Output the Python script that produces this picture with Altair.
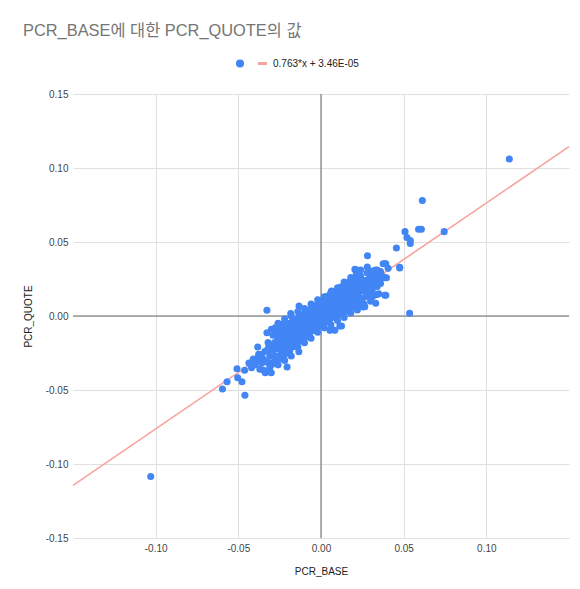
import altair as alt
import pandas as pd

TITLE = "PCR_BASE에 대한 PCR_QUOTE의 값"
TREND_LABEL = "0.763*x + 3.46E-05"
TREND_SLOPE = 0.763
TREND_INTERCEPT = 3.46e-05
TREND_X = [-0.15, 0.15]
TICKS = [-0.15, -0.10, -0.05, 0.00, 0.05, 0.10, 0.15]
X_TICKS = [-0.10, -0.05, 0.00, 0.05, 0.10]

# outliers and edge points
EDGE_BASE = [
    0.1139, -0.1030, 0.0613, 0.0590, 0.0607, 0.0745, 0.0508, 0.0520,
    0.0540, 0.0540, 0.0456, 0.0476, 0.0281, 0.0536, 0.0388, 0.0406,
    0.0211, 0.0386, 0.0386, 0.0331, 0.0321, 0.0265, 0.0295, 0.0325,
    0.0365, 0.0245, -0.0327, -0.0133, -0.0183, -0.0596, -0.0568, -0.0508,
    -0.0504, -0.0478, -0.0460, -0.0462, -0.0436, -0.0383, -0.0347, -0.0337,
    -0.0301, -0.0205, -0.0134, -0.0327, -0.0377, -0.0347, -0.0317, -0.0237,
    -0.0277, 0.0211, 0.0235, 0.0392, 0.0396, 0.0315, 0.0340, 0.0392,
    0.0219, 0.0114, 0.0064, 0.0054, 0.0124, 0.0084, 0.0185, 0.0205,
    0.0376, 0.0476, 0.0255,
]
EDGE_QUOTE = [
    0.1061, -0.1085, 0.0780, 0.0586, 0.0586, 0.0570, 0.0570, 0.0530,
    0.0510, 0.0490, 0.0460, 0.0325, 0.0407, 0.0018, 0.0353, 0.0322,
    0.0313, 0.0259, 0.0140, 0.0086, 0.0140, 0.0063, 0.0304, 0.0304,
    0.0259, 0.0214, 0.0039, 0.0068, 0.0016, -0.0493, -0.0444, -0.0356,
    -0.0417, -0.0444, -0.0536, -0.0367, -0.0318, -0.0209, -0.0367, -0.0383,
    -0.0383, -0.0345, -0.0241, -0.0113, -0.0259, -0.0304, -0.0315, -0.0056,
    -0.0079, 0.0309, 0.0277, 0.0353, 0.0259, 0.0304, 0.0146, 0.0140,
    0.0056, -0.0068, 0.0169, -0.0097, -0.0068, -0.0097, 0.0236, 0.0315,
    0.0353, 0.0329, 0.0061,
]

TAIL_BASE = [-0.036, -0.038, -0.040, -0.037, -0.042, -0.039, -0.036, -0.041]
TAIL_QUOTE = [-0.032, -0.028, -0.033, -0.036, -0.035, -0.030, -0.026, -0.029]

CORE_BASE = [
    -0.035, -0.034, -0.033, -0.032, -0.031, -0.030, -0.030, -0.029,
    -0.028, -0.028, -0.027, -0.026, -0.026, -0.025, -0.024, -0.024,
    -0.023, -0.022, -0.022, -0.021, -0.021, -0.020, -0.020, -0.019,
    -0.019, -0.018, -0.018, -0.017, -0.017, -0.016, -0.016, -0.015,
    -0.015, -0.014, -0.014, -0.013, -0.013, -0.012, -0.012, -0.011,
    -0.011, -0.010, -0.010, -0.009, -0.009, -0.008, -0.008, -0.007,
    -0.007, -0.006, -0.006, -0.005, -0.005, -0.004, -0.004, -0.003,
    -0.003, -0.002, -0.002, -0.001, -0.001, 0.000, 0.000, 0.000,
    0.001, 0.001, 0.002, 0.002, 0.003, 0.003, 0.004, 0.004,
    0.005, 0.005, 0.006, 0.006, 0.007, 0.007, 0.008, 0.008,
    0.009, 0.009, 0.010, 0.010, 0.011, 0.011, 0.012, 0.012,
    0.013, 0.013, 0.014, 0.014, 0.015, 0.015, 0.016, 0.016,
    0.017, 0.018, 0.018, 0.019, 0.020, 0.020, 0.021, 0.022,
    0.022, 0.023, 0.024, 0.024, 0.025, 0.026, 0.027, 0.028,
    0.028, 0.029, 0.030, 0.031, 0.032, 0.033, 0.034, 0.035,
    0.036,
]
CORE_QUOTE = [
    -0.029, -0.024, -0.031, -0.022, -0.027, -0.020, -0.033, -0.025,
    -0.018, -0.029, -0.022, -0.015, -0.027, -0.020, -0.024, -0.013,
    -0.018, -0.026, -0.011, -0.016, -0.021, -0.009, -0.019, -0.014,
    -0.024, -0.007, -0.017, -0.011, -0.021, -0.005, -0.014, -0.009,
    -0.019, -0.003, -0.012, -0.007, -0.016, -0.001, -0.010, -0.005,
    -0.014, 0.001, -0.008, -0.003, -0.012, 0.002, -0.006, -0.001,
    -0.010, 0.004, -0.004, 0.000, -0.008, 0.005, -0.003, 0.002,
    -0.006, 0.006, -0.001, 0.003, -0.005, 0.008, 0.000, -0.004,
    0.005, -0.002, 0.009, 0.002, 0.006, -0.001, 0.011, 0.003,
    0.008, 0.000, 0.012, 0.005, 0.009, 0.002, 0.014, 0.006,
    0.010, 0.003, 0.015, 0.007, 0.012, 0.004, 0.016, 0.009,
    0.013, 0.005, 0.018, 0.010, 0.014, 0.006, 0.019, 0.011,
    0.015, 0.021, 0.009, 0.017, 0.023, 0.012, 0.018, 0.025,
    0.014, 0.020, 0.027, 0.011, 0.022, 0.017, 0.024, 0.029,
    0.014, 0.021, 0.026, 0.018, 0.023, 0.028, 0.020, 0.025,
    0.030,
]

LAYER_BASE = [
    -0.025, -0.023, -0.021, -0.019, -0.017, -0.016, -0.015, -0.014, -0.013, -0.012,
    -0.012, -0.011, -0.010, -0.010, -0.009, -0.008, -0.008, -0.007, -0.006, -0.006,
    -0.005, -0.004, -0.004, -0.003, -0.002, -0.002, -0.001, 0.000, 0.001, 0.001,
    0.002, 0.003, 0.003, 0.004, 0.005, 0.006, 0.007, 0.008, 0.009, 0.010,
    0.011, 0.012, 0.013, 0.014, 0.016, 0.017, 0.019, 0.021, 0.023, 0.025,
    0.026, 0.027, 0.029, 0.030, 0.031, 0.033, 0.034, 0.036, 0.037,
]
LAYER_QUOTE = [
    -0.017, -0.022, -0.013, -0.019, -0.016, -0.009, -0.013, -0.017, -0.010, -0.006,
    -0.013, -0.009, -0.003, -0.011, -0.007, -0.002, -0.009, -0.005, 0.000, -0.007,
    -0.003, 0.001, -0.006, -0.002, 0.003, -0.004, 0.000, 0.004, 0.001, 0.008,
    0.005, 0.003, 0.010, 0.007, 0.004, 0.009, 0.006, 0.010, 0.007, 0.011,
    0.008, 0.012, 0.009, 0.014, 0.015, 0.012, 0.014, 0.021, 0.016, 0.019,
    0.024, 0.019, 0.025, 0.022, 0.028, 0.024, 0.031, 0.022, 0.027,
]

UPPER_BASE = [
    -0.029, -0.027, -0.025, -0.023, -0.021, -0.019, -0.017, -0.015, -0.013,
    -0.011, -0.009, -0.007, -0.005, -0.003, -0.001, 0.001, 0.003, 0.005,
    0.007, 0.009, 0.011, 0.013, 0.015, 0.017, 0.019, 0.021, 0.023,
]
UPPER_QUOTE = [
    -0.013, -0.011, -0.009, -0.008, -0.006, -0.005, -0.003, -0.002, 0.000,
    0.001, 0.003, 0.004, 0.006, 0.007, 0.009, 0.011, 0.013, 0.014,
    0.016, 0.017, 0.019, 0.020, 0.022, 0.023, 0.025, 0.027, 0.028,
]

LOWER_BASE = [
    -0.031, -0.029, -0.027, -0.025, -0.023, -0.021, -0.019, -0.017,
    -0.015, -0.013, -0.011, -0.009, -0.007, -0.005, -0.003, -0.001,
    0.001, 0.003, 0.005, 0.007, 0.009, 0.011, 0.013, 0.015,
    0.017, 0.019, 0.021, 0.023, 0.025, 0.027, 0.029, 0.031,
]
LOWER_QUOTE = [
    -0.035, -0.032, -0.031, -0.029, -0.027, -0.025, -0.022, -0.020,
    -0.018, -0.017, -0.015, -0.014, -0.012, -0.010, -0.008, -0.007,
    -0.005, -0.004, -0.003, -0.001, 0.000, 0.001, 0.002, 0.003,
    0.005, 0.006, 0.008, 0.009, 0.012, 0.013, 0.016, 0.013,
]

MID_BASE = [
    -0.032, -0.030, -0.028, -0.026, -0.024, -0.022, -0.020, -0.018, -0.016, -0.014, -0.012,
    -0.010, -0.008, -0.006, -0.004, -0.002, 0.000, 0.002, 0.004, 0.006, 0.008, 0.010,
    0.012, 0.014, 0.016, 0.018, 0.020, 0.022, 0.024, 0.026, 0.028, 0.030, 0.032,
]
MID_QUOTE = [
    -0.018, -0.024, -0.021, -0.019, -0.017, -0.016, -0.014, -0.012, -0.012, -0.008, -0.004,
    -0.005, -0.004, -0.002, -0.001, 0.001, 0.002, 0.000, 0.001, 0.002, 0.004, 0.005,
    0.007, 0.006, 0.008, 0.013, 0.016, 0.019, 0.018, 0.021, 0.023, 0.019, 0.020,
]

OUTER_UP_BASE = [
    -0.030, -0.026, -0.022, -0.018, -0.014, -0.010, -0.006, -0.002,
    0.002, 0.006, 0.010, 0.014, 0.018, 0.024, 0.028, 0.033,
]
OUTER_UP_QUOTE = [
    -0.009, -0.005, -0.002, 0.000, 0.003, 0.005, 0.008, 0.011,
    0.013, 0.016, 0.019, 0.023, 0.026, 0.031, 0.033, 0.031,
]
OUTER_LOW_BASE = [
    -0.026, -0.022, -0.018, -0.014, -0.010, -0.006, -0.002, 0.002,
    0.006, 0.010, 0.014, 0.018, 0.022, 0.026, 0.030, 0.035,
]
OUTER_LOW_QUOTE = [
    -0.033, -0.030, -0.027, -0.021, -0.018, -0.015, -0.011, -0.008,
    -0.006, -0.003, -0.001, 0.002, 0.004, 0.008, 0.010, 0.015,
]

groups = [
    (EDGE_BASE, EDGE_QUOTE), (TAIL_BASE, TAIL_QUOTE), (CORE_BASE, CORE_QUOTE),
    (LAYER_BASE, LAYER_QUOTE), (UPPER_BASE, UPPER_QUOTE), (LOWER_BASE, LOWER_QUOTE),
    (MID_BASE, MID_QUOTE), (OUTER_UP_BASE, OUTER_UP_QUOTE),
    (OUTER_LOW_BASE, OUTER_LOW_QUOTE),
]
xs, ys = [], []
for gx, gy in groups:
    assert len(gx) == len(gy)
    xs += gx
    ys += gy
points = pd.DataFrame({"PCR_BASE": xs, "PCR_QUOTE": ys})

trend = pd.DataFrame({
    "PCR_BASE": TREND_X,
    "PCR_QUOTE": [TREND_SLOPE * v + TREND_INTERCEPT for v in TREND_X],
})

FONT = "Liberation Sans, Arial, Noto Sans CJK KR"
BLUE = "#4285f4"
PINK = "#f6a39d"
LABEL_EXPR = "replace(format(datum.value, '.2f'), '\u2212', '-')"

xscale = alt.Scale(domain=[-0.15, 0.15], nice=False, zero=False)
yscale = alt.Scale(domain=[-0.15, 0.15], nice=False, zero=False)

xaxis = alt.Axis(values=X_TICKS, labelExpr=LABEL_EXPR, title="PCR_BASE", grid=True,
                 titleX=248, titleY=33, titleBaseline="middle")
yaxis = alt.Axis(values=TICKS, labelExpr=LABEL_EXPR, title="PCR_QUOTE", grid=True,
                 titleX=-45, titleY=222, titleBaseline="middle", titleAngle=270)

pts = alt.Chart(points).mark_circle(size=50, color=BLUE, opacity=1).encode(
    x=alt.X("PCR_BASE:Q", scale=xscale, axis=xaxis),
    y=alt.Y("PCR_QUOTE:Q", scale=yscale, axis=yaxis),
)

line = alt.Chart(trend).mark_line(color=PINK, strokeWidth=1.6).encode(
    x=alt.X("PCR_BASE:Q", scale=xscale),
    y=alt.Y("PCR_QUOTE:Q", scale=yscale),
)

zero_x = alt.Chart(pd.DataFrame({"v": [0]})).mark_rule(color="#666666", strokeWidth=1).encode(
    x=alt.X("v:Q", scale=xscale))
zero_y = alt.Chart(pd.DataFrame({"v": [0]})).mark_rule(color="#666666", strokeWidth=1).encode(
    y=alt.Y("v:Q", scale=yscale))

one = pd.DataFrame({"t": [TITLE], "l": [TREND_LABEL]})
title = alt.Chart(one).mark_text(align="left", baseline="middle", font=FONT,
                                 fontSize=16.4, color="#757575").encode(
    text="t:N", x=alt.value(-50), y=alt.value(-63))
leg_dot = alt.Chart(one).mark_circle(size=66, color=BLUE, opacity=1).encode(
    x=alt.value(167), y=alt.value(-30.5))
leg_line = alt.Chart(one).mark_rule(color=PINK, strokeWidth=3).encode(
    x=alt.value(185), x2=alt.value(194), y=alt.value(-30.5))
leg_text = alt.Chart(one).mark_text(align="left", baseline="middle", font=FONT,
                                    fontSize=10, color="#222222").encode(
    text="l:N", x=alt.value(200), y=alt.value(-30.5))

chart = alt.layer(zero_x, zero_y, line, pts, title, leg_dot, leg_line, leg_text).properties(
    width=496, height=444,
    autosize=alt.AutoSizeParams(type="none"),
    padding={"left": 65, "top": 86, "right": 3, "bottom": 40},
).configure_view(stroke=None).configure_axis(
    domain=False, ticks=False, gridColor="#e0e0e0", gridWidth=1,
    labelFont=FONT, labelFontSize=10, labelColor="#444444", labelPadding=5,
    titleFont=FONT, titleFontSize=10, titleFontWeight="normal", titleColor="#222222",
)

chart.save("out.html", embed_options={"renderer": "svg", "actions": False})
